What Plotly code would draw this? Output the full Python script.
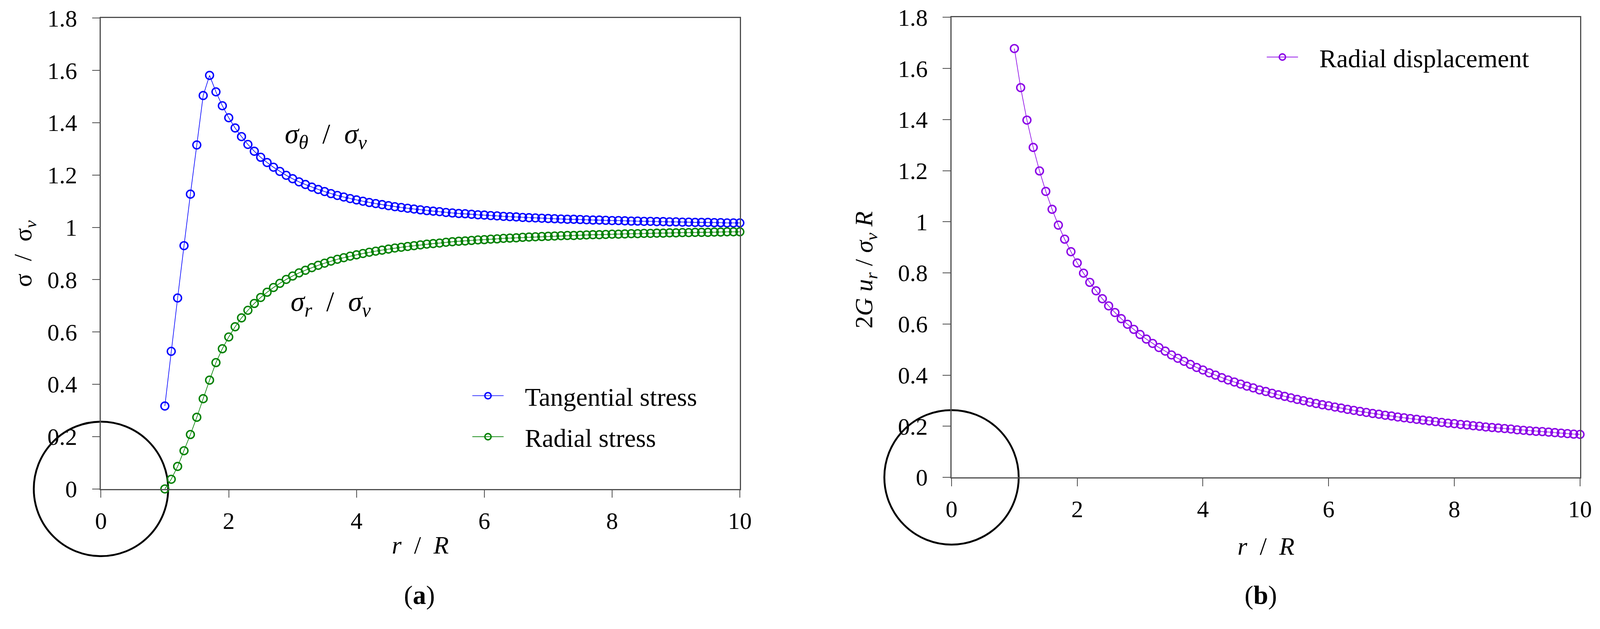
import plotly.graph_objects as go

W, H = 4152, 1609
FONT = "Liberation Serif"
AXIS_GREY = "#4d4d4d"

# r / R sample points (same for all three series)
r_ratio = [
    1.0, 1.1, 1.2, 1.3, 1.4, 1.5, 1.6, 1.7, 1.8, 1.9,
    2.0, 2.1, 2.2, 2.3, 2.4, 2.5, 2.6, 2.7, 2.8, 2.9,
    3.0, 3.1, 3.2, 3.3, 3.4, 3.5, 3.6, 3.7, 3.8, 3.9,
    4.0, 4.1, 4.2, 4.3, 4.4, 4.5, 4.6, 4.7, 4.8, 4.9,
    5.0, 5.1, 5.2, 5.3, 5.4, 5.5, 5.6, 5.7, 5.8, 5.9,
    6.0, 6.1, 6.2, 6.3, 6.4, 6.5, 6.6, 6.7, 6.8, 6.9,
    7.0, 7.1, 7.2, 7.3, 7.4, 7.5, 7.6, 7.7, 7.8, 7.9,
    8.0, 8.1, 8.2, 8.3, 8.4, 8.5, 8.6, 8.7, 8.8, 8.9,
    9.0, 9.1, 9.2, 9.3, 9.4, 9.5, 9.6, 9.7, 9.8, 9.9,
    10.0,
]

# sigma_theta / sigma_v
tangential_stress = [
    0.317, 0.526, 0.730, 0.930, 1.127, 1.315, 1.504, 1.581, 1.518, 1.465,
    1.419, 1.380, 1.347, 1.317, 1.291, 1.268, 1.248, 1.230, 1.214, 1.199,
    1.186, 1.174, 1.164, 1.154, 1.145, 1.137, 1.129, 1.122, 1.116, 1.110,
    1.105, 1.100, 1.095, 1.091, 1.087, 1.083, 1.079, 1.076, 1.073, 1.070,
    1.067, 1.064, 1.062, 1.060, 1.057, 1.055, 1.053, 1.052, 1.050, 1.048,
    1.047, 1.045, 1.044, 1.042, 1.041, 1.040, 1.038, 1.037, 1.036, 1.035,
    1.034, 1.033, 1.032, 1.031, 1.031, 1.030, 1.029, 1.028, 1.028, 1.027,
    1.026, 1.026, 1.025, 1.024, 1.024, 1.023, 1.023, 1.022, 1.022, 1.021,
    1.021, 1.020, 1.020, 1.019, 1.019, 1.019, 1.018, 1.018, 1.017, 1.017,
    1.017,
]

# sigma_r / sigma_v
radial_stress = [
    0.000, 0.037, 0.086, 0.146, 0.208, 0.274, 0.345, 0.416, 0.483, 0.536,
    0.581, 0.620, 0.654, 0.683, 0.709, 0.732, 0.752, 0.770, 0.786, 0.801,
    0.814, 0.826, 0.836, 0.846, 0.855, 0.863, 0.871, 0.878, 0.884, 0.890,
    0.895, 0.900, 0.905, 0.909, 0.913, 0.917, 0.921, 0.924, 0.927, 0.930,
    0.933, 0.936, 0.938, 0.940, 0.943, 0.945, 0.947, 0.948, 0.950, 0.952,
    0.953, 0.955, 0.956, 0.958, 0.959, 0.960, 0.962, 0.963, 0.964, 0.965,
    0.966, 0.967, 0.968, 0.969, 0.969, 0.970, 0.971, 0.972, 0.972, 0.973,
    0.974, 0.974, 0.975, 0.976, 0.976, 0.977, 0.977, 0.978, 0.978, 0.979,
    0.979, 0.980, 0.980, 0.981, 0.981, 0.981, 0.982, 0.982, 0.983, 0.983,
    0.983,
]

# 2G u_r / (sigma_v R)
radial_displacement = [
    1.678, 1.525, 1.398, 1.291, 1.199, 1.119, 1.049, 0.987, 0.932, 0.883,
    0.839, 0.799, 0.763, 0.730, 0.699, 0.671, 0.645, 0.621, 0.599, 0.579,
    0.559, 0.541, 0.524, 0.508, 0.494, 0.479, 0.466, 0.454, 0.442, 0.430,
    0.420, 0.409, 0.400, 0.390, 0.381, 0.373, 0.365, 0.357, 0.350, 0.342,
    0.336, 0.329, 0.323, 0.317, 0.311, 0.305, 0.300, 0.294, 0.289, 0.284,
    0.280, 0.275, 0.271, 0.266, 0.262, 0.258, 0.254, 0.250, 0.247, 0.243,
    0.240, 0.236, 0.233, 0.230, 0.227, 0.224, 0.221, 0.218, 0.215, 0.212,
    0.210, 0.207, 0.205, 0.202, 0.200, 0.197, 0.195, 0.193, 0.191, 0.189,
    0.186, 0.184, 0.182, 0.180, 0.179, 0.177, 0.175, 0.173, 0.171, 0.169,
    0.168,
]

x_ticks = [0, 2, 4, 6, 8, 10]
y_ticks = [0, 0.2, 0.4, 0.6, 0.8, 1.0, 1.2, 1.4, 1.6, 1.8]
y_tick_text = ["0", "0.2", "0.4", "0.6", "0.8", "1", "1.2", "1.4", "1.6", "1.8"]

GAP = "&nbsp;&nbsp;&nbsp;"  # space between legend symbol and label


def series(x, y, name, color, xa, ya, legend, group):
    return go.Scatter(
        x=x, y=y, name=GAP + name, mode="lines+markers",
        line=dict(color=color, width=1.6),
        marker=dict(symbol="circle-open", size=20, color=color,
                    line=dict(width=3.6, color=color)),
        xaxis=xa, yaxis=ya, legend=legend, legendgroup=group,
        cliponaxis=False,
    )


def opening(xa, ya):
    # the tunnel outline, a ring centred on the origin
    return go.Scatter(
        x=[0], y=[0], mode="markers", showlegend=False, hoverinfo="skip",
        marker=dict(symbol="circle-open", size=344, color="black",
                    line=dict(width=4.8, color="black")),
        xaxis=xa, yaxis=ya, cliponaxis=False,
    )


fig = go.Figure()
fig.add_trace(opening("x", "y"))
fig.add_trace(series(r_ratio, tangential_stress, "Tangential stress",
                     "#0000ff", "x", "y", "legend", "t"))
fig.add_trace(series(r_ratio, radial_stress, "Radial stress",
                     "#008000", "x", "y", "legend", "r"))
fig.add_trace(opening("x2", "y2"))
fig.add_trace(series(r_ratio, radial_displacement, "Radial displacement",
                     "#8a00e6", "x2", "y2", "legend2", "d"))

axis_common = dict(
    showline=True, linecolor=AXIS_GREY, linewidth=2.5, mirror=True,
    ticks="outside", ticklen=20, tickwidth=2, tickcolor=AXIS_GREY,
    showgrid=False, zeroline=False, automargin=False,
    tickfont=dict(family=FONT, size=61, color="black"),
)
xa = dict(axis_common, range=[0, 10], tickvals=x_ticks, ticklabelstandoff=6)
ya = dict(axis_common, range=[0, 1.8], tickvals=y_ticks, ticktext=y_tick_text,
          ticklabelstandoff=26)

legend_common = dict(
    font=dict(family=FONT, size=66, color="black"),
    bgcolor="rgba(0,0,0,0)", itemwidth=80, tracegroupgap=16,
    xanchor="left", yanchor="middle",
)

title_font = dict(family=FONT, size=64, color="black")
label_font = dict(family=FONT, size=72, color="black")
centred = dict(showarrow=False, xanchor="center", yanchor="middle")
annotations = [
    dict(centred, text="<i>σ</i><sub><i>θ</i></sub>&nbsp;&nbsp;/&nbsp;&nbsp;<i>σ</i><sub><i>v</i></sub>",
         x=3.52, y=1.35, xref="x", yref="y", font=label_font),
    dict(centred, text="<i>σ</i><sub><i>r</i></sub>&nbsp;&nbsp;/&nbsp;&nbsp;<i>σ</i><sub><i>v</i></sub>",
         x=3.6, y=0.71, xref="x", yref="y", font=label_font),
    dict(centred, text="<i>r</i>&nbsp;&nbsp;/&nbsp;&nbsp;<i>R</i>", x=0.2628, y=0.1212,
         xref="paper", yref="paper", font=title_font),
    dict(centred, text="<i>r</i>&nbsp;&nbsp;/&nbsp;&nbsp;<i>R</i>", x=0.7912, y=0.1193,
         xref="paper", yref="paper", font=title_font),
    dict(centred, text="σ&nbsp;&nbsp;/&nbsp;&nbsp;σ<sub><i>v</i></sub>", x=0.0154, y=0.591,
         xref="paper", yref="paper", textangle=-90, font=title_font),
    dict(centred, text="2<i>G</i> <i>u<sub>r</sub></i> / <i>σ<sub>v</sub></i> <i>R</i>",
         x=0.541, y=0.565, xref="paper", yref="paper", textangle=-90, font=title_font),
    dict(centred, text="(<b>a</b>)", x=0.262, y=0.041, xref="paper", yref="paper",
         font=dict(family=FONT, size=68, color="black")),
    dict(centred, text="(<b>b</b>)", x=0.788, y=0.041, xref="paper", yref="paper",
         font=dict(family=FONT, size=68, color="black")),
]

fig.update_layout(
    template="none",
    width=W, height=H,
    margin=dict(l=0, r=0, t=0, b=0, pad=0),
    paper_bgcolor="white", plot_bgcolor="white",
    font=dict(family=FONT, color="black"),
    xaxis=dict(xa, domain=[0.0631, 0.4624], anchor="y"),
    yaxis=dict(ya, domain=[0.2119, 0.9708], anchor="x"),
    xaxis2=dict(xa, domain=[0.5947, 0.9875], anchor="y2"),
    yaxis2=dict(ya, domain=[0.2306, 0.9720], anchor="x2"),
    legend=dict(legend_common, x=0.294, y=0.329),
    legend2=dict(legend_common, x=0.7905, y=0.908),
    annotations=annotations,
)

# flush with the window; if the window turns out narrower than the figure,
# shrink the figure (same aspect) so nothing is cut at the right edge
fit_js = """
var gd = document.getElementById('{plot_id}');
document.body.style.margin = '0';
document.body.style.overflow = 'hidden';
var w = window.innerWidth;
if (w && Math.abs(w - %d) > 2) {
    return Plotly.relayout(gd, {width: w, height: Math.round(w * %d / %d)});
}
""" % (W, H, W)

fig.write_html("out.html", config={"displayModeBar": False}, post_script=fit_js)
